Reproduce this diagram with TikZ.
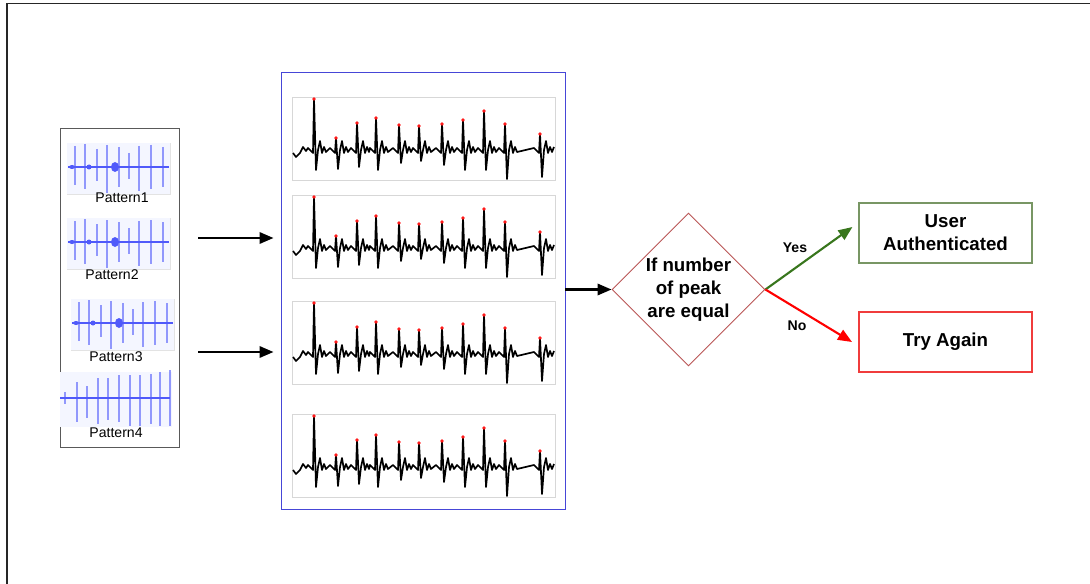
\documentclass[tikz,border=0pt]{standalone}
\usepackage{fontspec}
\setmainfont{Liberation Sans}
\usetikzlibrary{shapes.geometric,arrows.meta,calc}

\definecolor{waveblue}{RGB}{80,90,250}
\definecolor{wavebg}{RGB}{244,246,255}
\definecolor{boxblue}{RGB}{70,70,215}
\definecolor{diamondred}{RGB}{185,85,85}
\definecolor{yesgreen}{RGB}{56,118,29}
\definecolor{authgreen}{RGB}{120,150,100}
\definecolor{retryred}{RGB}{240,60,60}
\definecolor{stripgray}{RGB}{215,215,215}

\newcommand{\pix}{0.025cm}
% R peaks of the ECG trace: x / height / depth of S wave
\newcommand{\beats}{314/51/20, 336/12/19, 357/27/17, 376/32/20, 399/25/13, 419/24/11, 442/26/15, 463/30/20, 484/39/20, 505/26/29, 540/16/27}

\tikzset{
  frame/.style={line width=1.4pt, black!85},
  outerbox/.style={draw, rectangle, inner sep=0pt},
  stripframe/.style={draw=stripgray, fill=white, line width=0.5pt},
  ecg/.style={line width=1.2pt, black, line join=round},
  peakdot/.style={fill=red!90},
  spike/.style={waveblue, opacity=0.6, line width=0.9pt},
  waveline/.style={waveblue, line width=1.8pt},
  patlabel/.style={font=\fontsize{10}{12}\selectfont, inner sep=0pt},
  result/.style={draw, rectangle, inner sep=0pt, minimum width=173*\pix, minimum height=60*\pix,
    align=center, font=\fontsize{13.3}{16.3}\selectfont\bfseries},
  decision/.style={draw=diamondred, diamond, aspect=1, inner sep=0pt, line width=0.6pt,
    minimum width=153*\pix, minimum height=153*\pix, align=center,
    font=\fontsize{13.3}{16.3}\selectfont\bfseries},
  flow/.style={line width=1.8pt, -{Triangle[length=10pt,width=8pt]}},
  branch/.style={line width=1.5pt, -{Triangle[length=10pt,width=8pt]}},
  branchlbl/.style={font=\fontsize{10}{12}\selectfont\bfseries, inner sep=0pt}
}

\begin{document}
\begin{tikzpicture}[x=0.025cm, y=-0.025cm]
    \useasboundingbox (0,0) rectangle (1090,584);
    % Outer frame (top and left edges only)
    \draw[frame] (7,584) -- (7,3.5) -- (1090,3.5);

    % Box holding the recorded patterns
    \node[outerbox, draw=black!65, line width=0.6pt, minimum width=119*\pix, minimum height=319*\pix] (patterns) at (119.5,287.5) {};

    % Pattern strips 1 to 3
    \foreach \sx/\sy in {67/143, 67/218, 71/299} {
        \fill[wavebg] (\sx,\sy) rectangle ++(103,51);
        \draw[stripgray!70, line width=0.4pt] (\sx,\sy+51) -- ++(103,0) -- ++(0,-51);
        \foreach \dx/\ta/\tb in {8/3/42, 18/1/46, 30/6/38, 40/2/50, 52/4/44, 62/10/36, 72/3/48, 84/2/46, 96/4/44}
            \draw[spike] (\sx+\dx,\sy+\ta) -- (\sx+\dx,\sy+\tb);
        \draw[waveline] (\sx+1,\sy+24) -- ++(101,0);
        \fill[waveblue] (\sx+48,\sy+24) ellipse (4 and 5);
        \fill[waveblue] (\sx+5,\sy+24) ellipse (3 and 2);
        \fill[waveblue] (\sx+22,\sy+24) ellipse (2.5 and 2.5);
    }
    % Pattern strip 4
    \fill[wavebg] (60,372) rectangle (172,427);
    \foreach \dx/\ta/\tb in {5/20/32, 17/10/50, 27/14/46, 38/6/52, 48/6/48, 59/3/50, 70/3/54, 80/3/54, 91/2/52, 100/0/54, 110/-2/54}
        \draw[spike] (60+\dx,372+\ta) -- (60+\dx,372+\tb);
    \draw[waveline] (60,398) -- (170,398);

    % Pattern labels
    \node[patlabel] (lbl1) at (122,198) {Pattern1};
    \node[patlabel] (lbl2) at (112,275) {Pattern2};
    \node[patlabel] (lbl3) at (116,357) {Pattern3};
    \node[patlabel] (lbl4) at (116,433) {Pattern4};

    % Box holding the peak detection of each pattern
    \node[outerbox, draw=boxblue, line width=0.6pt, minimum width=284*\pix, minimum height=437*\pix] (peaks) at (423,290.5) {};

    % ECG strips with the detected peaks
    \foreach \top in {97,195,301,414} {
        \draw[stripframe] (292,\top) rectangle (555,\top+83);
        \begin{scope}[shift={(0,\top+53)}]
            \draw[ecg] (293,3) -- (296,7) -- (300,3) -- (303,-3) -- (306,1)
                \foreach \bx/\bh/\bd in \beats {
                    -- (\bx-6,-2) -- (\bx-3,1) -- (\bx-1,3) -- (\bx,-\bh) -- (\bx+2,\bd)
                    -- (\bx+4,0) -- (\bx+6,-9) -- (\bx+8,3) -- (\bx+10,-3) -- (\bx+12,2)
                }
                -- (554,-3);
            \foreach \bx/\bh/\bd in \beats
                \fill[peakdot] (\bx,-\bh) circle (1.8);
        \end{scope}
    }

    % Arrows from the patterns to the peak detection
    \coordinate (in1) at (198,238);
    \coordinate (in2) at (198,352);
    \draw[flow, shorten >=7*\pix] (in1) -- (in1 -| peaks.west);
    \draw[flow, shorten >=7*\pix] (in2) -- (in2 -| peaks.west);

    % Decision
    \node[decision] (check) at (688.5,289.5) {If number\\of peak\\are equal};
    \draw[flow] (peaks.east |- check.west) -- (check.west);

    % Results
    \node[result, draw=authgreen, line width=0.8pt] (auth) at (945.5,233) {User\\Authenticated};
    \node[result, draw=retryred, line width=1.4pt] (retry) at (945.5,342) {Try Again};

    \draw[branch, yesgreen] (check.east) -- ($(auth.west)+(-6,-6)$);
    \draw[branch, red] (check.east) -- ($(retry.west)+(-6,0)$);
    \node[branchlbl] (yes) at (795,248) {Yes};
    \node[branchlbl] (no) at (797,326) {No};
\end{tikzpicture}
\end{document}
